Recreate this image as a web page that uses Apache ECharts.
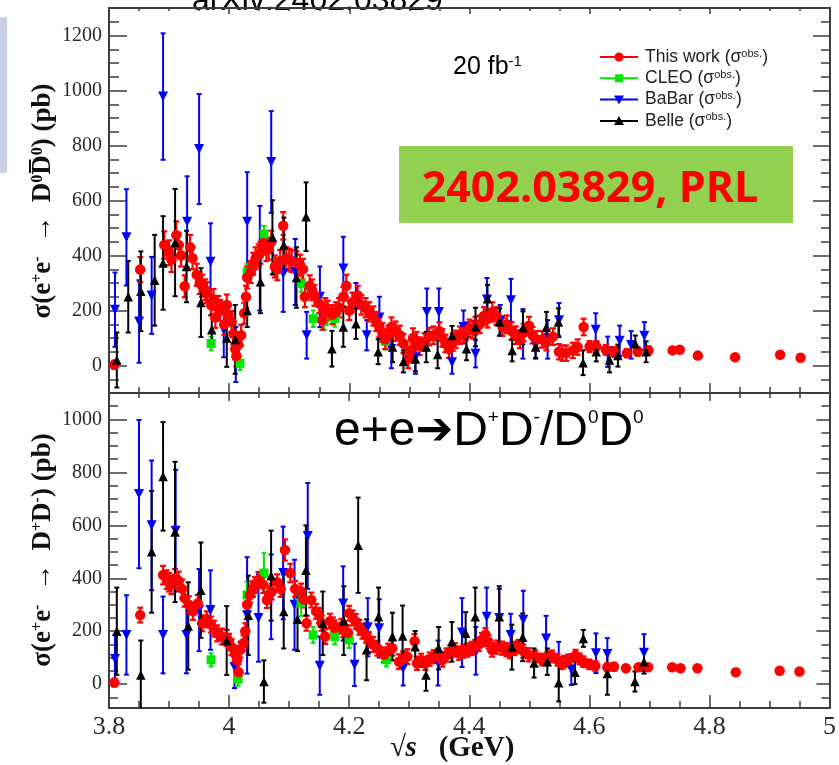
<!DOCTYPE html>
<html><head><meta charset="utf-8">
<script src="https://cdn.jsdelivr.net/npm/echarts@6/dist/echarts.min.js"></script>
<style>html,body{margin:0;padding:0;background:#fff}#c{width:839px;height:765px}</style>
</head><body><div id="c"></div><script>
// ---------- data: [sqrt(s) GeV, sigma pb, error pb] ----------
const topBES = [
[3.809,3,15],[3.852,349,45],[3.892,438,50],[3.900,410,45],[3.904,385,45],[3.912,474,50],[3.916,438,45],[3.920,400,40],
[3.926,288,40],[3.935,430,45],[3.939,390,40],[3.946,330,40],[3.951,300,40],[3.955,290,40],[3.960,275,38],[3.963,265,38],
[3.970,220,38],[3.974,240,38],[3.977,175,38],[3.982,215,38],[3.985,200,38],[3.992,150,38],[3.996,220,38],[3.999,185,38],
[4.004,160,38],[4.007,115,38],[4.010,60,38],[4.012,35,38],[4.015,75,38],[4.020,110,38],[4.025,190,38],[4.028,250,40],
[4.030,320,40],[4.036,340,40],[4.040,370,40],[4.044,390,40],[4.049,400,40],[4.052,410,40],[4.057,445,40],[4.062,420,40],
[4.066,425,40],[4.070,450,40],[4.076,360,40],[4.080,350,40],[4.085,380,40],[4.090,508,50],[4.095,390,40],[4.100,385,40],
[4.104,380,40],[4.112,375,40],[4.118,365,38],[4.123,350,38],[4.126,250,38],[4.134,290,38],[4.138,275,38],[4.142,255,38],
[4.150,225,35],[4.155,165,35],[4.160,210,35],[4.164,200,35],[4.172,185,35],[4.178,195,35],[4.183,210,35],[4.190,250,35],
[4.195,290,40],[4.200,200,35],[4.205,230,35],[4.214,255,35],[4.220,220,35],[4.227,210,35],[4.233,195,35],[4.240,180,35],
[4.245,160,35],[4.250,140,35],[4.255,120,35],[4.260,95,35],[4.265,110,35],[4.270,140,35],[4.277,125,35],[4.284,110,35],
[4.290,80,35],[4.298,25,35],[4.302,55,35],[4.306,100,35],[4.312,90,32],[4.317,70,32],[4.325,85,32],[4.333,105,32],
[4.340,110,32],[4.350,125,32],[4.355,100,32],[4.360,80,32],[4.366,60,32],[4.372,85,32],[4.377,95,32],[4.384,110,32],
[4.390,115,32],[4.394,125,32],[4.400,135,32],[4.405,130,32],[4.410,145,32],[4.417,150,32],[4.424,180,32],[4.430,170,32],
[4.438,195,35],[4.445,180,32],[4.455,140,32],[4.462,150,32],[4.470,125,32],[4.477,110,32],[4.484,95,32],[4.490,120,32],
[4.499,145,32],[4.505,110,30],[4.512,95,30],[4.521,95,30],[4.528,85,30],[4.539,105,30],[4.549,50,28],[4.555,45,28],
[4.561,45,28],[4.572,55,28],[4.580,67,28],[4.590,140,30],[4.600,69,20],[4.611,69,20],[4.627,57,18],[4.641,49,18],
[4.662,45,15],[4.680,51,15],[4.698,55,15],[4.738,55,8],[4.750,57,8],[4.780,36,8],[4.842,30,8],[4.917,39,8],[4.951,28,8]
];
const topCLEO = [[3.970,80,25],[4.018,8,25],[4.030,340,30],[4.058,478,30],[4.120,298,30],[4.140,170,30],[4.158,160,30],[4.176,171,30],[4.260,88,30]];
const topBaBar = [
[3.810,203,135],[3.829,466,175],[3.850,160,150],[3.871,255,140],[3.890,978,230],[3.930,523,165],[3.950,787,200],[3.969,377,140],
[3.991,130,100],[4.011,40,100],[4.030,523,180],[4.051,390,190],[4.070,740,185],[4.090,335,140],[4.110,340,120],[4.129,110,85],
[4.151,250,110],[4.190,353,115],[4.211,220,80],[4.229,110,55],[4.250,175,75],[4.270,60,70],[4.310,30,60],[4.329,195,85],
[4.349,195,85],[4.371,12,42],[4.390,140,60],[4.410,43,50],[4.429,240,78],[4.451,165,55],[4.469,237,78],[4.489,115,90],
[4.510,75,50],[4.530,95,70],[4.549,165,62],[4.610,130,60],[4.630,50,55],[4.650,90,55],[4.669,75,50],[4.691,108,50]
];
const topBelle = [
[3.813,20,100],[3.832,250,130],[3.853,270,145],[3.876,310,165],[3.890,373,170],[3.910,447,195],[3.929,360,130],[3.953,229,125],
[3.971,130,55],[3.996,100,105],[4.010,95,125],[4.030,200,60],[4.052,305,115],[4.072,466,135],[4.091,438,100],[4.112,320,110],
[4.128,541,125],[4.171,61,65],[4.190,140,72],[4.211,152,55],[4.248,50,45],[4.272,67,55],[4.290,15,40],[4.310,24,45],
[4.328,67,55],[4.347,40,50],[4.371,109,35],[4.395,61,42],[4.410,140,70],[4.430,243,50],[4.450,158,50],[4.471,55,40],
[4.489,137,60],[4.510,67,40],[4.528,140,55],[4.548,158,50],[4.589,10,45],[4.611,50,35],[4.633,20,45],[4.647,36,40],
[4.676,79,30],[4.694,50,38]
];
const botBES = [
[3.809,6,15],[3.852,261,28],[3.890,412,35],[3.896,395,35],[3.900,385,35],[3.904,375,35],[3.910,400,35],[3.916,390,35],
[3.922,360,35],[3.926,325,32],[3.933,300,32],[3.940,275,32],[3.948,305,32],[3.955,230,30],[3.963,245,30],[3.970,225,30],
[3.975,210,30],[3.980,192,30],[3.988,180,30],[3.996,175,30],[4.000,160,30],[4.004,140,30],[4.010,115,30],[4.013,90,30],
[4.016,45,30],[4.019,130,30],[4.024,155,30],[4.027,200,30],[4.030,300,30],[4.035,338,30],[4.040,360,30],[4.043,375,30],
[4.049,394,30],[4.057,375,30],[4.063,318,30],[4.067,340,30],[4.071,350,30],[4.080,385,30],[4.086,360,30],[4.093,507,40],
[4.102,420,35],[4.110,360,30],[4.120,350,30],[4.124,320,30],[4.129,230,28],[4.137,318,28],[4.145,275,28],[4.150,260,28],
[4.154,230,28],[4.160,180,28],[4.168,238,28],[4.173,224,28],[4.176,213,28],[4.187,219,28],[4.190,206,28],[4.198,194,28],
[4.200,268,28],[4.206,250,28],[4.211,237,28],[4.217,215,28],[4.222,200,28],[4.228,185,28],[4.233,168,28],[4.240,150,28],
[4.247,136,28],[4.258,111,28],[4.265,125,28],[4.272,136,28],[4.283,85,28],[4.290,95,28],[4.297,104,28],[4.309,162,28],
[4.313,79,25],[4.320,90,25],[4.327,79,25],[4.334,95,25],[4.341,104,25],[4.348,110,25],[4.355,91,25],[4.362,110,25],
[4.369,123,25],[4.376,130,25],[4.383,117,25],[4.390,125,25],[4.397,129,25],[4.404,135,25],[4.410,142,25],[4.416,150,25],
[4.421,168,25],[4.427,187,25],[4.432,160,25],[4.438,129,25],[4.446,140,25],[4.455,136,25],[4.462,130,25],[4.468,123,25],
[4.475,135,25],[4.482,142,25],[4.490,125,25],[4.499,111,25],[4.510,105,22],[4.521,93,22],[4.530,100,22],[4.538,105,22],
[4.547,92,22],[4.554,79,22],[4.558,85,22],[4.565,90,22],[4.577,108,22],[4.584,95,20],[4.590,85,20],[4.600,75,18],
[4.610,69,18],[4.630,64,15],[4.641,66,15],[4.661,60,12],[4.682,64,12],[4.698,64,12],[4.738,64,8],[4.752,60,8],
[4.780,60,8],[4.844,45,8],[4.917,51,8],[4.950,48,8]
];
const botCLEO = [[3.970,92,25],[4.015,19,25],[4.030,337,50],[4.058,420,75],[4.120,307,50],[4.140,186,30],[4.176,180,30],[4.200,167,30],[4.262,92,25]];
const botBaBar = [
[3.810,95,90],[3.829,186,150],[3.850,718,280],[3.871,600,245],[3.890,186,145],[3.911,580,230],[3.929,186,145],[3.950,280,155],
[3.969,280,150],[4.009,65,80],[4.030,260,220],[4.049,250,165],[4.070,330,160],[4.090,420,175],[4.109,300,170],[4.131,560,200],
[4.151,70,110],[4.190,305,140],[4.209,73,80],[4.231,215,110],[4.250,211,110],[4.290,60,65],[4.348,80,85],[4.388,195,130],
[4.411,126,90],[4.429,255,110],[4.450,250,110],[4.469,186,80],[4.490,243,110],[4.528,173,85],[4.549,80,80],[4.570,55,58],
[4.611,117,75],[4.630,114,60],[4.691,119,70]
];
const botBelle = [
[3.813,200,165],[3.853,35,130],[3.871,500,230],[3.890,785,205],[3.910,575,265],[3.932,220,165],[3.953,355,180],[3.996,165,130],
[4.032,260,150],[4.058,10,80],[4.070,410,170],[4.091,275,140],[4.114,245,120],[4.128,430,170],[4.156,230,120],[4.191,240,130],
[4.215,525,180],[4.229,130,115],[4.249,255,110],[4.272,180,90],[4.289,182,115],[4.310,141,60],[4.328,35,60],[4.349,136,80],
[4.371,160,75],[4.394,192,80],[4.410,255,110],[4.450,255,115],[4.471,140,85],[4.489,177,90],[4.508,80,55],[4.530,85,50],
[4.549,5,70],[4.576,45,45],[4.590,173,32],[4.630,40,80],[4.676,10,38],[4.691,85,45]
];
// ---------- tick labels ----------
const topYLabels = [0,200,400,600,800,1000,1200];
const topYMinor = [-50,0,50,100,150,200,250,300,350,400,450,500,550,600,650,700,750,800,850,900,950,1000,1050,1100,1150,1200,1250];
const botYLabels = [0,200,400,600,800,1000];
const botYMinor = [-50,0,50,100,150,200,250,300,350,400,450,500,550,600,650,700,750,800,850,900,950,1000,1050];

const AX = '#3c3c3c';
const SERIF = '"Liberation Serif","DejaVu Serif",serif';
const SANS = '"Liberation Sans",Arial,sans-serif';

function xAx(grid, pos, major, minor, labels) {
  return {type:'value', gridIndex:grid, position:pos, min:3.8, max:5.0, interval:0.2,
    axisLine:{show:true, onZero:false, lineStyle:{color:AX, width:2}},
    axisTick:{show:true, inside:true, length:major, lineStyle:{color:AX, width:1.5}},
    minorTick:{show:true, splitNumber:4, length:minor, lineStyle:{color:AX, width:1.5}},
    splitLine:{show:false}, minorSplitLine:{show:false},
    axisLabel: labels ? {show:true, margin:6, color:'#2a2a2a', fontFamily:SERIF, fontSize:26, showMinLabel:true, showMaxLabel:true,
      formatter: v => String(Math.round(v * 10) / 10)} : {show:false}
  };
}
function yAx(grid, pos, min, max, ticks, len, labels, line) {
  return {type:'value', gridIndex:grid, position:pos, min:min, max:max,
    axisLine:{show:line, onZero:false, lineStyle:{color:AX, width:2}},
    axisTick:{show:true, inside:true, length:len, customValues:ticks, lineStyle:{color:AX, width:1.5}},
    splitLine:{show:false},
    axisLabel: labels ? {show:true, customValues:labels, margin:7, color:'#2a2a2a', fontFamily:SERIF, fontSize:20,
      formatter: v => String(Math.round(v))} : {show:false}
  };
}
function errSeries(data, xi, yi, color, lw, cap) {
  return {type:'custom', xAxisIndex:xi, yAxisIndex:yi, clip:true, silent:true, data:data,
    encode:{x:0, y:1},
    renderItem: function (params, api) {
      const x = api.value(0), y = api.value(1), e = api.value(2);
      const a = api.coord([x, y + e]), b = api.coord([x, y - e]);
      const st = {stroke:color, lineWidth:lw};
      return {type:'group', children:[
        {type:'line', shape:{x1:a[0], y1:a[1], x2:b[0], y2:b[1]}, style:st},
        {type:'line', shape:{x1:a[0]-cap, y1:a[1], x2:a[0]+cap, y2:a[1]}, style:st},
        {type:'line', shape:{x1:b[0]-cap, y1:b[1], x2:b[0]+cap, y2:b[1]}, style:st}
      ]};
    }};
}
function markSeries(data, xi, yi, color, symbol, size, rot) {
  return {type:'scatter', xAxisIndex:xi, yAxisIndex:yi, clip:true, silent:true,
    data:data.map(d => [d[0], d[1]]), symbol:symbol, symbolSize:size, symbolRotate:rot || 0,
    itemStyle:{color:color, opacity:1}};
}
const RED = '#ff0000', GREEN = '#00e600', BLUE = '#0000ff', BLACK = '#000000';
function panel(bes, cleo, babar, belle, xi, yi) {
  return [
    errSeries(babar, xi, yi, BLUE, 2, 2.5), markSeries(babar, xi, yi, BLUE, 'triangle', 10, 180),
    errSeries(cleo, xi, yi, GREEN, 2, 2.5), markSeries(cleo, xi, yi, GREEN, 'rect', 9),
    errSeries(bes, xi, yi, RED, 2.2, 3), markSeries(bes, xi, yi, RED, 'circle', 10.5),
    errSeries(belle, xi, yi, BLACK, 2, 2.5), markSeries(belle, xi, yi, BLACK, 'triangle', 9.5)
  ];
}

const legendRows = [
  {name:'This work', color:RED, shape:'circle'},
  {name:'CLEO', color:GREEN, shape:'rect'},
  {name:'BaBar', color:BLUE, shape:'down'},
  {name:'Belle', color:BLACK, shape:'up'}
];
const legendG = [];
legendRows.forEach((r, i) => {
  const cy = 57 + i * 21.3, cx = 619;
  legendG.push({type:'line', shape:{x1:600, y1:cy, x2:638, y2:cy}, style:{stroke:r.color, lineWidth:2}});
  let m;
  if (r.shape === 'circle') m = {type:'circle', shape:{cx:cx, cy:cy, r:4.5}, style:{fill:r.color}};
  else if (r.shape === 'rect') m = {type:'rect', shape:{x:cx-4, y:cy-4, width:8, height:8}, style:{fill:r.color}};
  else if (r.shape === 'down') m = {type:'polygon', shape:{points:[[cx-5,cy-4],[cx+5,cy-4],[cx,cy+5]]}, style:{fill:r.color}};
  else m = {type:'polygon', shape:{points:[[cx-5,cy+4],[cx+5,cy+4],[cx,cy-5]]}, style:{fill:r.color}};
  legendG.push(m);
  legendG.push({type:'text', x:645, y:cy, style:{
    text:'{n|' + r.name + ' (σ}{s|obs.}{n|)}',
    rich:{n:{fontFamily:SANS, fontSize:17.5, fill:'#222', verticalAlign:'middle'}, s:{fontFamily:SANS, fontSize:11, fill:'#222', verticalAlign:'top'}},
    align:'left', textAlign:'left', verticalAlign:'middle', textVerticalAlign:'middle'}});
});

const titleRich = {
  m:{fontFamily:SERIF, fontWeight:'bold', fontSize:27, fill:'#111', verticalAlign:'middle'},
  s:{fontFamily:SERIF, fontWeight:'bold', fontSize:16, fill:'#111', verticalAlign:'top'}
};

const option = {
  animation:false,
  backgroundColor:'#ffffff',
  grid:[{left:109, top:8, width:721, height:385}, {left:109, top:393, width:721, height:315}],
  xAxis:[xAx(0,'bottom',10,6,false), xAx(0,'top',6,3,false), xAx(1,'bottom',13,7,true), xAx(1,'top',8,5,false)],
  yAxis:[
    yAx(0,'left',-100,1300,topYLabels,18,topYLabels,true), yAx(0,'left',-100,1300,topYMinor,10,null,false),
    yAx(0,'right',-100,1300,topYLabels,17,null,true), yAx(0,'right',-100,1300,topYMinor,9,null,false),
    yAx(1,'left',-90,1100,botYLabels,18,botYLabels,true), yAx(1,'left',-90,1100,botYMinor,9,null,false),
    yAx(1,'right',-90,1100,botYLabels,13,null,true), yAx(1,'right',-90,1100,botYMinor,8,null,false)
  ],
  series:[].concat(panel(topBES, topCLEO, topBaBar, topBelle, 0, 0), panel(botBES, botCLEO, botBaBar, botBelle, 2, 4)),
  graphic:{elements:[
    {type:'rect', shape:{x:0, y:17, width:7, height:156}, style:{fill:'#c7d1e7'}},
    {type:'text', x:192, y:1, style:{text:'arXiv:2402.03829', fontFamily:SANS, fontSize:32, fill:'#000', align:'left', textAlign:'left', verticalAlign:'middle', textVerticalAlign:'middle'}},
    {type:'text', x:453, y:67, style:{text:'{a|20 fb}{b|-1}', rich:{a:{fontFamily:SANS, fontSize:25, fill:'#000', verticalAlign:'middle'}, b:{fontFamily:SANS, fontSize:15, fill:'#000', verticalAlign:'top'}}, align:'left', textAlign:'left', verticalAlign:'middle', textVerticalAlign:'middle'}},
    {type:'rect', shape:{x:399, y:146, width:394, height:77}, style:{fill:'#92d050'}},
    {type:'text', x:590, y:190, style:{text:'2402.03829, PRL', fontFamily:'"Open Sans",sans-serif', fontWeight:'bold', fontSize:43, fill:'#ff0000', align:'center', textAlign:'center', verticalAlign:'middle', textVerticalAlign:'middle'}},
    {type:'text', x:334, y:432, style:{text:'{a|e+e}{r|➔}{a|D}{s|+}{a|D}{s|-}{a|/D}{s|0}{a|D}{s|0}', rich:{
      a:{fontFamily:SANS, fontSize:48, fill:'#000', verticalAlign:'middle'},
      r:{fontFamily:'"DejaVu Sans",sans-serif', fontWeight:'bold', fontSize:45, fill:'#000', verticalAlign:'middle'},
      s:{fontFamily:SANS, fontSize:19, fill:'#000', verticalAlign:'top'}}, align:'left', textAlign:'left', verticalAlign:'middle', textVerticalAlign:'middle'}},
    {type:'text', x:43, y:201, rotation:Math.PI/2, style:{text:'{m|σ(e}{s|+}{m|e}{s|-}{m|  →  D}{s|0}{m|D\u0305}{s|0}{m|) (pb)}', rich:titleRich, align:'center', textAlign:'center', verticalAlign:'middle', textVerticalAlign:'middle'}},
    {type:'text', x:43, y:550, rotation:Math.PI/2, style:{text:'{m|σ(e}{s|+}{m|e}{s|-}{m|  →  D}{s|+}{m|D}{s|-}{m|) (pb)}', rich:titleRich, align:'center', textAlign:'center', verticalAlign:'middle', textVerticalAlign:'middle'}},
    {type:'text', x:452, y:749, style:{text:'{i|√s}{b|   (GeV)}', rich:{i:{fontFamily:SERIF, fontStyle:'italic', fontWeight:'bold', fontSize:29, fill:'#111'}, b:{fontFamily:SERIF, fontWeight:'bold', fontSize:29, fill:'#111'}}, align:'center', textAlign:'center', verticalAlign:'middle', textVerticalAlign:'middle'}}
  ].concat(legendG)}
};
const chart = echarts.init(document.getElementById('c'), null, {renderer:'canvas'});
chart.setOption(option);
</script></body></html>
